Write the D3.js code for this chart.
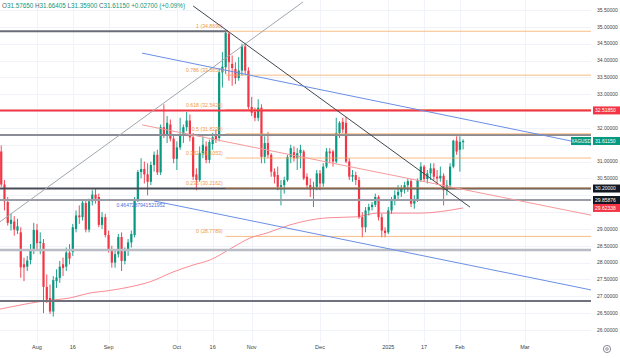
<!DOCTYPE html>
<html><head><meta charset="utf-8">
<script src="https://cdn.jsdelivr.net/npm/d3@7"></script>
<style>html,body{margin:0;padding:0;background:#fff;}svg{display:block;font-family:"Liberation Sans",Arial,sans-serif;}</style>
</head><body><svg id="c" width="620" height="358"></svg>
<script>
// ---------- DATA ----------
const firstDate = "2024-07-17", lastDate = "2025-03-31";
const holidays = ["2024-12-25", "2025-01-01"];
const symbol = "XAGUSD";
// daily OHLC, Jul 17 2024 .. Feb 4 2025
const open = [
 31.30,30.32,29.80,29.15,29.22,28.95,28.90,27.95,27.88,28.08,28.38,
 28.97,28.58,28.58,27.28,26.95,26.55,27.45,27.55,27.95,27.88,28.30,28.32,29.00,29.40,29.35,29.77,28.98,29.82,30.02,29.95,29.12,29.35,
 28.82,28.38,28.00,28.25,28.76,28.05,28.35,28.60,28.82,29.86,30.69,30.78,30.62,30.40,30.90,31.20,30.68,32.02,31.80,32.10,31.68,
 31.08,31.42,31.78,32.02,32.22,31.72,30.62,30.45,31.25,31.45,31.05,31.52,31.78,31.70,33.65,33.80,34.80,33.90,33.75,33.48,33.70,34.42,33.70,
 32.62,32.48,32.30,32.60,31.14,31.55,31.20,30.70,30.60,30.25,30.30,30.45,31.14,31.28,31.10,31.25,31.30,30.55,30.30,30.20,30.25,
 30.65,30.35,30.85,31.30,31.30,31.00,31.85,32.18,32.15,31.00,30.55,30.60,30.45,29.35,29.05,29.55,29.65,29.72,29.95,29.35,28.95,
 28.90,29.55,29.85,30.00,30.10,30.20,30.30,30.42,29.75,29.88,30.45,30.85,30.48,30.65,30.80,30.55,30.50,30.58,30.15,30.30,30.85,31.62,
 31.35,31.5765];
const high = [
 31.48,30.45,29.95,29.45,29.38,29.30,29.05,28.15,28.20,28.55,29.18,
 29.15,28.90,28.70,27.65,27.35,27.60,27.80,28.05,28.15,28.45,28.55,29.15,29.55,29.70,29.85,29.85,29.90,30.15,30.20,30.05,29.50,29.45,
 28.95,28.50,28.40,28.85,28.90,28.45,28.70,28.95,29.95,30.75,31.10,31.00,30.95,31.00,31.30,31.35,32.10,32.70,32.35,32.25,31.80,
 31.60,32.30,32.10,32.47,32.40,31.85,30.80,31.45,31.75,31.60,31.65,31.85,31.95,33.75,34.25,34.87,34.85,34.15,33.95,34.10,34.50,34.52,33.80,
 32.92,32.60,32.85,32.70,31.75,31.88,31.25,30.80,30.85,30.45,30.55,31.20,31.50,31.45,31.40,31.50,31.35,30.65,30.50,30.40,30.75,
 30.75,30.95,31.40,31.40,31.35,32.30,32.20,32.30,32.33,31.10,30.75,30.70,30.55,29.50,29.65,29.75,29.80,30.05,30.00,29.45,29.05,
 29.65,29.95,30.15,30.30,30.30,30.40,30.50,30.48,30.00,30.50,30.98,30.90,30.75,30.95,30.95,30.75,30.85,30.65,30.45,30.95,31.65,31.75,
 31.75,31.66405];
const low = [
 30.25,29.55,29.10,28.95,28.80,28.85,27.55,27.45,27.75,27.95,28.25,
 28.40,28.25,26.50,26.80,26.48,26.40,27.25,27.40,27.60,27.75,27.95,28.20,28.90,29.15,29.25,28.90,28.90,29.70,29.75,29.05,29.00,28.75,
 28.30,27.85,27.85,28.15,27.75,27.95,28.20,28.45,28.75,29.80,30.50,30.35,30.00,30.30,30.70,30.60,30.60,31.70,31.55,31.60,30.95,
 30.75,31.35,31.55,31.90,31.60,30.45,30.15,30.40,31.10,30.95,30.95,31.35,31.55,31.60,33.20,33.60,33.40,33.25,33.30,33.40,33.55,33.60,32.55,
 32.35,32.20,32.20,30.95,30.95,31.10,30.55,30.35,30.15,29.70,30.05,30.40,30.95,31.00,30.75,30.80,30.45,30.20,29.95,29.65,30.15,
 30.15,30.25,30.80,30.95,30.85,30.95,31.70,31.85,30.95,30.45,30.40,30.30,29.30,28.75,28.90,29.40,29.55,29.65,29.25,28.75,28.75,
 28.85,29.45,29.70,29.85,29.95,30.05,30.10,29.65,29.60,29.80,30.40,30.40,30.35,30.45,30.45,30.30,30.40,29.70,30.00,30.20,30.80,31.20,
 30.70,31.359];
const close = [
 30.32,29.82,29.18,29.27,28.98,29.08,27.86,27.86,28.06,28.38,28.97,
 28.58,28.62,27.28,26.90,26.55,27.48,27.56,27.88,27.84,28.30,28.12,29.05,29.40,29.35,29.78,28.98,29.82,30.02,29.90,29.12,29.35,28.82,
 28.35,28.00,28.25,28.76,28.05,28.35,28.60,28.85,29.86,30.69,30.78,30.62,30.40,30.90,31.20,30.68,32.02,31.80,32.15,31.68,31.08,
 31.42,31.78,32.02,32.22,31.72,30.55,30.45,31.25,31.50,31.05,31.58,31.72,31.65,33.65,33.82,34.82,33.95,33.78,33.48,33.70,34.42,33.70,32.62,
 32.45,32.30,32.60,31.14,31.55,31.20,30.70,30.55,30.25,30.30,30.45,31.14,31.40,31.10,31.25,31.35,30.50,30.30,30.20,30.25,30.65,
 30.35,30.85,31.30,31.25,31.00,31.85,32.15,31.95,31.00,30.55,30.60,30.45,29.35,29.05,29.55,29.65,29.72,29.95,29.35,28.95,28.88,
 29.55,29.85,30.00,30.10,30.20,30.30,30.42,29.75,29.88,30.45,30.85,30.48,30.65,30.80,30.55,30.50,30.58,30.15,30.30,30.85,31.62,31.30,
 31.5845,31.6115];
// moving average samples (bar index, value)
const maIndex = [-0.4,5.8,11,15.9,21.1,27.3,32.5,39.6,45.7,52.8,59,64.2,71.3,76.5,81.7,88.8,100.1,109.4,115.5,128.7,142];
const maValue = [26.62,26.74,26.83,26.89,26.95,27.10,27.16,27.28,27.43,27.72,27.93,28.08,28.46,28.73,28.88,29.12,29.33,29.36,29.47,29.47,29.62338];
// fibonacci retracement
const fibHigh = 34.869, fibLow = 28.7789;
const fibRatios = [1, 0.786, 0.618, 0.5, 0.382, 0.236, 0];
const fibStartIndex = 69;
// horizontal levels
const grayLevels = [31.79, 30.20, 29.85876, 28.375, 26.86];
const topLevel = 34.869, topLevelEndIndex = 69.7;
const redLevel = 32.5185;
// trend lines [i1, p1, i2, p2]
const trendGray = [-0.4, 29.21, 92.8, 35.74];
const trendDark = [59, 35.62, 144.1, 29.65];
const channelUpper = [43.3, 34.22, 181.3, 31.49];
const channelLower = [47, 29.83, 181.3, 27.19];
const trendPink = [43.3, 32.09, 181.3, 29.41];
const channelText = "0.4647287941521952";
// axes
const priceTicks = d3.range(26, 35.51, 0.5);
const tickDates = ["2024-08-01","2024-08-16","2024-09-02","2024-10-01","2024-10-16","2024-11-01","2024-12-02","2025-01-02","2025-01-17","2025-02-03","2025-03-03"];
const tickLabels = ["Aug","16","Sep","Oct","16","Nov","Dec","2025","17","Feb","Mar"];
const badgeValues = [32.51850, 31.61150, 30.20000, 29.85876, 29.62338];
const headerKeys = ["O","H","L","C",""];
const headerValues = ["31.57650","31.66405","31.35900","31.61150","+0.02700 (+0.09%)"];

// ---------- CHART ----------
const svg = d3.select("#c");
const plotR = 591, plotB = 342;
const fmt = d3.utcFormat("%Y-%m-%d");
const dates = d3.utcDay.range(new Date(firstDate+"T00:00Z"), d3.utcDay.offset(new Date(lastDate+"T00:00Z"),1))
  .filter(d => d.getUTCDay() % 6 !== 0).map(fmt).filter(s => !holidays.includes(s));
const x = d3.scaleBand().domain(dates).range([-0.4, 591.6]);
const bw = x.bandwidth();
const cx = d => x(d) + bw/2;
const xi = d3.scaleLinear().domain([0, dates.length-1]).range([cx(dates[0]), cx(dates[dates.length-1])]);
const y = d3.scaleLinear().domain([26, 35.5]).range([330, 10]);

svg.append("defs").append("clipPath").attr("id","clip").append("rect").attr("x",0).attr("y",0).attr("width",plotR).attr("height",plotB);
const plot = svg.append("g").attr("clip-path","url(#clip)");

// grid
plot.append("g").selectAll("line").data(tickDates).join("line")
  .attr("x1", d=>Math.round(cx(d))+0.5).attr("x2", d=>Math.round(cx(d))+0.5).attr("y1",0).attr("y2",plotB)
  .attr("stroke","#f0f3fa").attr("stroke-width",1);
plot.append("g").selectAll("line").data(priceTicks).join("line")
  .attr("x1",0).attr("x2",plotR).attr("y1",d=>Math.round(y(d))+0.5).attr("y2",d=>Math.round(y(d))+0.5)
  .attr("stroke","#f0f3fa").attr("stroke-width",1);

// candles
const candles = open.map((o,j)=>({d:dates[j], o, h:high[j], l:low[j], c:close[j]}));
const cg = plot.append("g");
cg.selectAll("line").data(candles).join("line")
  .attr("x1",d=>cx(d.d)).attr("x2",d=>cx(d.d)).attr("y1",d=>y(d.h)).attr("y2",d=>y(d.l))
  .attr("stroke",d=>d.c>=d.o?"#089981":"#f23645").attr("stroke-width",0.9);
cg.selectAll("rect").data(candles).join("rect")
  .attr("x",d=>cx(d.d)-1.1).attr("width",2.2)
  .attr("y",d=>y(Math.max(d.o,d.c))).attr("height",d=>Math.max(0.8, Math.abs(y(d.o)-y(d.c))))
  .attr("fill",d=>d.c>=d.o?"#089981":"#f23645");

// MA
const maPts = maIndex.map((v,i)=>[xi(v), y(maValue[i])]);
plot.append("path").attr("d", d3.line().curve(d3.curveMonotoneX)(maPts))
  .attr("fill","none").attr("stroke","#f7525f").attr("stroke-opacity",0.75).attr("stroke-width",0.9);

// horizontal lines
plot.append("line").attr("x1",0).attr("x2",xi(topLevelEndIndex)).attr("y1",y(topLevel)).attr("y2",y(topLevel))
  .attr("stroke","#6a6d77").attr("stroke-width",2);
const grayColors = ["#8a8d96","#4a4d57","#9a9da6","#b9bcc4","#6f727c"];
plot.append("g").selectAll("line").data(grayLevels).join("line")
  .attr("x1",0).attr("x2",plotR).attr("y1",d=>y(d)).attr("y2",d=>y(d))
  .attr("stroke",(d,i)=>grayColors[i]).attr("stroke-width",(d,i)=>i===3?2.5:2);
// fib
const fibPrice = r => fibLow + r*(fibHigh-fibLow);
const fg = plot.append("g");
fg.selectAll("line").data(fibRatios).join("line")
  .attr("x1",xi(fibStartIndex)).attr("x2",plotR).attr("y1",d=>y(fibPrice(d))).attr("y2",d=>y(fibPrice(d)))
  .attr("stroke","#f5a04f").attr("stroke-opacity",0.7).attr("stroke-width",1);
fg.selectAll("text").data(fibRatios).join("text")
  .attr("x",xi(fibStartIndex)-3).attr("y",d=>y(fibPrice(d))-3)
  .attr("text-anchor","end").attr("font-size",5.2).attr("fill","#f29a3f")
  .text(d=>`${d} (${fibPrice(d).toFixed(4)})`);
plot.append("line").attr("x1",0).attr("x2",plotR).attr("y1",y(redLevel)).attr("y2",y(redLevel))
  .attr("stroke","#f23645").attr("stroke-width",2);

// trend lines
function tline(t, color, w){
  plot.append("line").attr("x1",xi(t[0])).attr("y1",y(t[1])).attr("x2",xi(t[2])).attr("y2",y(t[3]))
    .attr("stroke",color).attr("stroke-width",w);
}
tline(trendGray, "#a3a6ae", 1);
tline(trendDark, "#434651", 1);
tline(channelUpper, "#6a8fe6", 1);
tline(channelLower, "#6a8fe6", 1);
tline(trendPink, "#f59a9a", 1);
plot.append("text").attr("x",xi(channelLower[0])+11).attr("y",y(channelLower[1])+6.5)
  .attr("text-anchor","end").attr("font-size",5).attr("fill","#4a72d9").text(channelText);

// header
const ht = svg.append("text").attr("x",2).attr("y",8).attr("font-size",6.3).attr("xml:space","preserve");
headerKeys.forEach((k,i)=>{
  ht.append("tspan").attr("fill","#5d606b").text((i? " ":"") + k);
  ht.append("tspan").attr("fill","#089981").text(headerValues[i]);
});

// y axis labels (hidden where a badge covers them)
const visibleTicks = priceTicks.filter(t => badgeValues.every(b => Math.abs(y(t)-y(b)) > 6.5));
svg.append("g").selectAll("text").data(visibleTicks).join("text")
  .attr("x",597).attr("y",d=>y(d)).attr("dy","0.35em").attr("font-size",5).attr("fill","#3d3f47")
  .text(d=>d.toFixed(5));

// x axis
const xAxis = d3.axisBottom(x).tickValues(tickDates).tickFormat((d,i)=>tickLabels[i]).tickSize(0).tickPadding(0);
const xa = svg.append("g").attr("transform",`translate(0,${plotB})`).call(xAxis);
xa.select(".domain").remove();
xa.selectAll("text").attr("font-size",5.5).attr("fill","#3d3f47").attr("dy","1.35em").attr("font-family","Liberation Sans, Arial, sans-serif");

// badges
const badgeColors = ["#f23645","#089981","#131722","#131722","#f23645"];
const bg = svg.append("g");
badgeValues.forEach((v,i)=>{
  const yy = y(v);
  bg.append("rect").attr("x",593).attr("y",yy-4).attr("width",27).attr("height",8).attr("fill",badgeColors[i]);
  bg.append("text").attr("x",595).attr("y",yy).attr("dy","0.35em").attr("font-size",5).attr("fill","#fff").text(v.toFixed(5));
});
// symbol badge
const sy = y(badgeValues[1]);
bg.append("rect").attr("x",571).attr("y",sy-4).attr("width",20).attr("height",8).attr("fill","#089981");
bg.append("text").attr("x",581).attr("y",sy).attr("dy","0.35em").attr("text-anchor","middle").attr("font-size",4.6).attr("fill","#fff").text(symbol);

// settings icon
const ic = svg.append("g").attr("transform","translate(607,349)");
ic.append("circle").attr("r",3.6).attr("fill","none").attr("stroke","#6a6d78").attr("stroke-width",0.8);
ic.append("circle").attr("r",1.3).attr("fill","none").attr("stroke","#6a6d78").attr("stroke-width",0.7);
</script></body></html>
